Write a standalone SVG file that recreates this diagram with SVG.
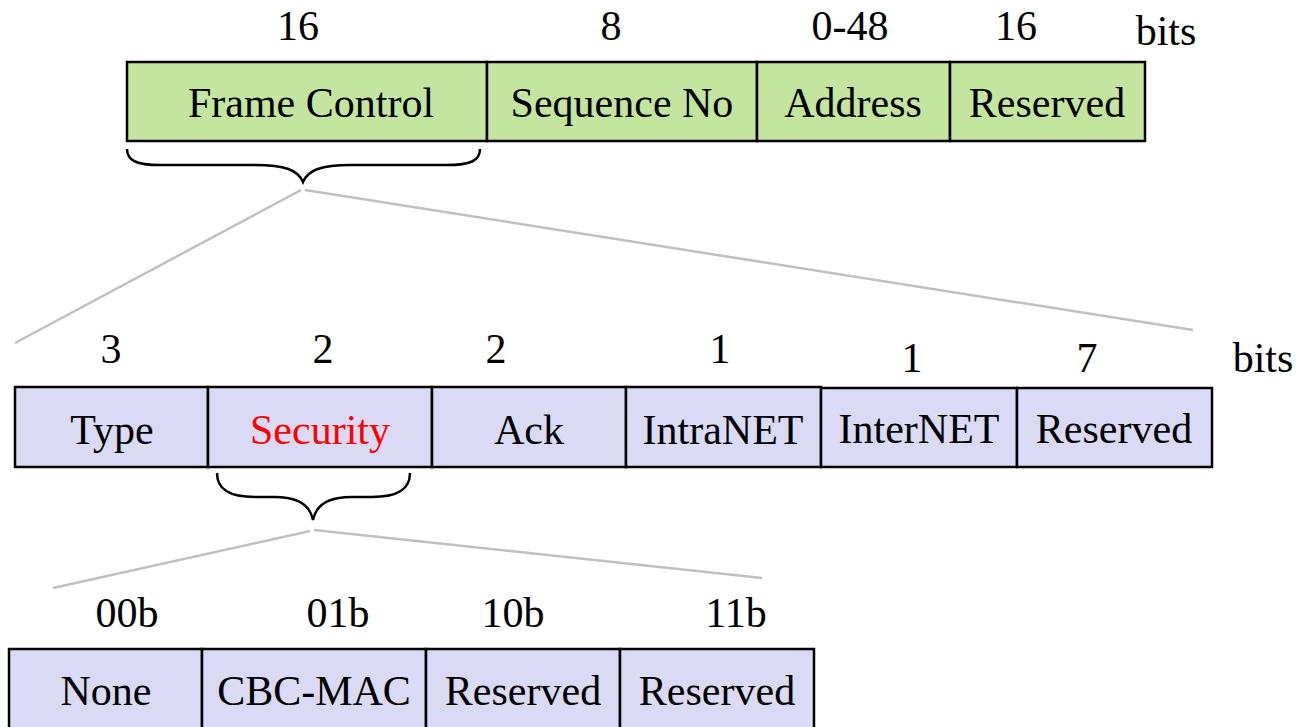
<svg xmlns="http://www.w3.org/2000/svg" width="1299" height="727" viewBox="0 0 1299 727">
<style>
text{font-family:"Liberation Serif","Times New Roman",serif;font-size:42px;fill:#000;text-anchor:middle}
.g{fill:#c4e59f;stroke:#000;stroke-width:2.5}
.p{fill:#dadaf4;stroke:#000;stroke-width:2.5}
.brace{fill:none;stroke:#000;stroke-width:2.5}
.zoom{stroke:#c0c0c0;stroke-width:2.5;fill:none}
</style>
<rect width="1299" height="727" fill="#fff"/>
<g id="top-row">
<text x="298" y="40">16</text>
<text x="611" y="40">8</text>
<text x="850" y="40">0-48</text>
<text x="1016" y="40">16</text>
<text x="1166" y="45">bits</text>
<g id="frame-control"><rect class="g" x="127" y="62" width="360" height="79"/><text x="311" y="117">Frame Control</text></g>
<g id="sequence-no"><rect class="g" x="487" y="62" width="270" height="79"/><text x="622" y="117">Sequence No</text></g>
<g id="address"><rect class="g" x="757" y="62" width="193" height="79"/><text x="853" y="117">Address</text></g>
<g id="reserved-top"><rect class="g" x="950" y="62" width="195" height="79"/><text x="1047" y="117">Reserved</text></g>
</g>
<g id="middle-row">
<text x="111" y="363">3</text>
<text x="323" y="363">2</text>
<text x="496" y="363">2</text>
<text x="720" y="363">1</text>
<text x="912" y="372">1</text>
<text x="1087" y="372">7</text>
<text x="1263" y="372">bits</text>
<g id="type"><rect class="p" x="15" y="387" width="193" height="80"/><text x="112" y="444">Type</text></g>
<g id="security"><rect class="p" x="208" y="387" width="224" height="80"/><text x="320" y="444" style="fill:#ff0000">Security</text></g>
<g id="ack"><rect class="p" x="432" y="387" width="194" height="80"/><text x="529" y="444">Ack</text></g>
<g id="intranet"><rect class="p" x="626" y="387" width="195" height="80"/><text x="723" y="444">IntraNET</text></g>
<g id="internet"><rect class="p" x="821" y="388" width="196" height="79"/><text x="919" y="443">InterNET</text></g>
<g id="reserved-mid"><rect class="p" x="1017" y="388" width="195" height="79"/><text x="1114" y="443">Reserved</text></g>
</g>
<g id="bottom-row">
<text x="127" y="627">00b</text>
<text x="338" y="627">01b</text>
<text x="513" y="627">10b</text>
<text x="736" y="627">11b</text>
<g id="none"><rect class="p" x="9" y="649" width="193" height="100"/><text x="106" y="705">None</text></g>
<g id="cbc-mac"><rect class="p" x="202" y="649" width="224" height="100"/><text x="314" y="705">CBC-MAC</text></g>
<g id="reserved-b1"><rect class="p" x="426" y="649" width="194" height="100"/><text x="523" y="705">Reserved</text></g>
<g id="reserved-b2"><rect class="p" x="620" y="649" width="194" height="100"/><text x="717" y="705">Reserved</text></g>
</g>
<g id="connectors">
<path class="brace" d="M127,149 C127,161 137,165 160,165 L255,165 C285,165 298,170 303,182 C308,170 321,165 351,165 L447,165 C470,165 480,161 480,149"/>
<path class="brace" d="M217,473 C217,490 230,497 255,497 L275,497 C298,497 310,505 313,520 C316,505 328,497 351,497 L372,497 C397,497 410,490 410,473"/>
<line class="zoom" x1="301" y1="190" x2="15" y2="343"/>
<line class="zoom" x1="305" y1="190" x2="1193" y2="330"/>
<line class="zoom" x1="310" y1="531" x2="53" y2="588"/>
<line class="zoom" x1="314" y1="530" x2="762" y2="578"/>
</g>
</svg>
